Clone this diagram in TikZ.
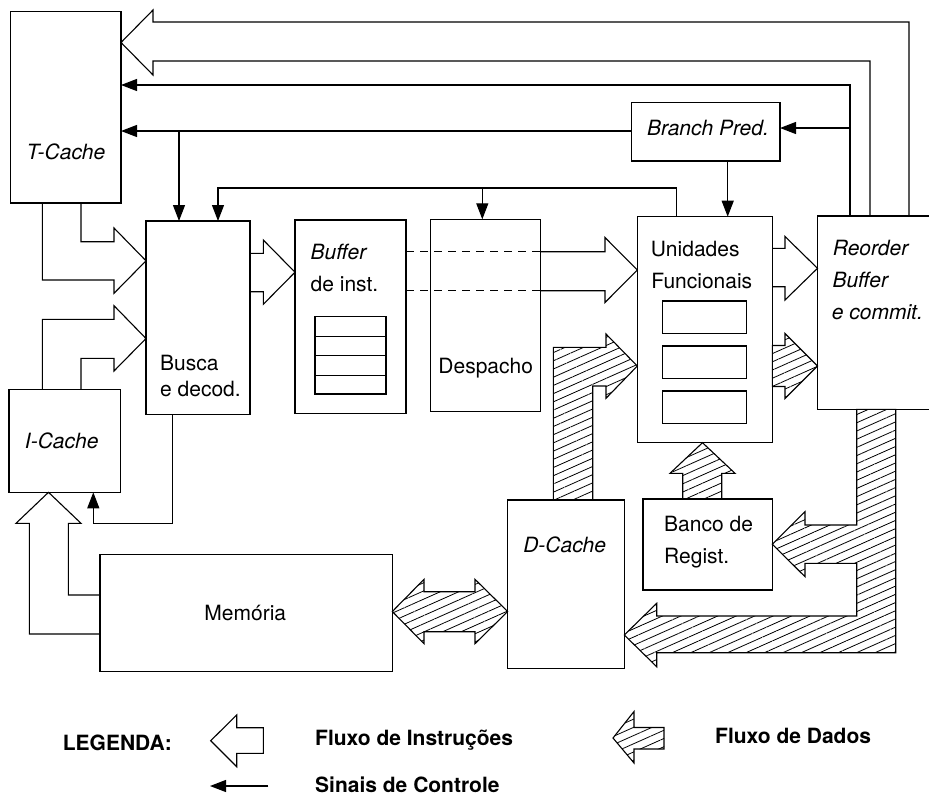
\documentclass[tikz,border=0pt]{standalone}
\usepackage{fontspec}
\setmainfont{TeX Gyre Heros}
\usetikzlibrary{arrows.meta,patterns.meta}

\begin{document}
\fontsize{21}{25}\selectfont
\begin{tikzpicture}[x=1pt,y=-1pt,
  box/.style={draw, line width=1.3pt, inner sep=0pt, outer sep=0pt, rectangle},
  cell/.style={draw, line width=1.1pt, inner sep=0pt, outer sep=0pt, rectangle},
  lbl/.style={inner sep=0pt, anchor=base west},
  ctr/.style={inner sep=0pt, anchor=base},
  wire/.style={line width=1.2pt},
  ctrl/.style={line width=1.2pt, -{Triangle[length=16pt,width=12pt]}},
  instr/.style={draw, line width=1.1pt, line join=miter},
  data/.style={draw, line width=1.1pt, line join=miter,
    pattern={Lines[angle=24,distance=7.5pt,line width=0.8pt]}},
  dashline/.style={line width=1.1pt, dash pattern=on 8pt off 6pt},
]
\clip (0,0) rectangle (929,796);

% ---------- blocks ----------
\node[box, minimum width=110.3pt, minimum height=191.3pt] (tc) at (65.85,107.35) {};
\node[box, minimum width=111.7pt, minimum height=103pt]   (ic) at (64.85,440.8) {};
\node[box, minimum width=104pt,   minimum height=193.3pt] (bd) at (198,317.65) {};
\node[box, minimum width=111pt,   minimum height=193.3pt] (bi) at (350.5,316.65) {};
\node[box, minimum width=110pt,   minimum height=192.4pt] (ds) at (485.7,315.5) {};
\node[box, minimum width=135pt,   minimum height=226pt]   (uf) at (704.8,329.7) {};
\node[box, minimum width=122.5pt, minimum height=193.3pt] (rb) at (878.75,312.65) {};
\node[box, minimum width=148.3pt, minimum height=58.3pt]  (bp) at (705.85,131.85) {};
\node[box, minimum width=116.6pt, minimum height=168.3pt] (dc) at (566,584.15) {};
\node[box, minimum width=129.3pt, minimum height=91pt]    (br) at (707.65,544.5) {};
\node[box, minimum width=292.3pt, minimum height=117.4pt] (mm) at (246.15,613) {};

% instruction buffer entries
\node[cell, minimum width=71pt, minimum height=77.3pt] (stk) at (350.5,355.35) {};
\foreach \yy in {336,355.7,375} \draw[line width=1pt] (stk.west |- 0,\yy) -- (stk.east |- 0,\yy);

% functional units
\node[cell, minimum width=84pt, minimum height=32.3pt] (fu1) at (704.7,317.15) {};
\node[cell, minimum width=84pt, minimum height=32.3pt] (fu2) at (704.7,362.15) {};
\node[cell, minimum width=84pt, minimum height=32.3pt] (fu3) at (704.7,407.15) {};

% ---------- labels ----------
\node[ctr, font=\itshape] (ttc) at (65.9,159.2) {T-Cache};
\node[ctr, font=\itshape] (tic) at (61.7,448.5) {I-Cache};
\node[lbl] (tbd1) at (160,370) {Busca};
\node[lbl] (tbd2) at (160,396) {e decod.};
\node[lbl, font=\itshape] (tbi1) at (310.5,259.3) {Buffer};
\node[lbl] (tbi2) at (310.5,291.7) {de inst.};
\node[ctr] (tds) at (485.7,373.3) {Despacho};
\node[lbl] (tuf1) at (650.7,256.7) {Unidades};
\node[lbl] (tuf2) at (651.2,288.3) {Funcionais};
\node[lbl, font=\itshape] (trb1) at (832.7,255) {Reorder};
\node[lbl, font=\itshape] (trb2) at (832.3,287.3) {Buffer};
\node[lbl, font=\itshape] (trb3) at (831.7,319.3) {e commit.};
\node[ctr, font=\itshape] (tbp) at (708,135) {Branch Pred.};
\node[ctr, font=\itshape] (tdc) at (564.7,552.7) {D-Cache};
\node[lbl] (tbr1) at (664,531.7) {Banco de};
\node[lbl] (tbr2) at (664,563.3) {Regist.};
\node[ctr] (tmm) at (245.3,620) {Memória};

% ---------- control signals ----------
\draw[ctrl] (rb.north -| 850,0) |- (tc.east |- 0,85);
\coordinate (jbp) at (850,128);
\draw[ctrl] (jbp) -- (bp.east |- jbp);
\draw[ctrl] (bp.west |- 0,131) -- (tc.east |- 0,131);
\coordinate (jbd) at (179,131);
\draw[ctrl] (jbd) -- (bd.north -| jbd);
\draw[ctrl] (bp.south -| 727.7,0) -- (uf.north -| 727.7,0);
\draw[ctrl] (uf.north -| 676.7,0) -- (676.7,188) -- (218,188) -- (bd.north -| 218,0);
\coordinate (jds) at (482.3,188);
\draw[ctrl] (jds) -- (ds.north -| jds);
\draw[ctrl] (bd.south -| 172.3,0) |- (93.3,523.3) -- (ic.south -| 93.3,0);

% ---------- instruction flow ----------
\draw[instr] (rb.north -| 909,0) -- (909,22) -- (153,22) -- (153,10) -- (tc.east |- 0,42.5)
  -- (153,75) -- (153,61) -- (870,61) -- (rb.north -| 870,0);
\draw[instr] (tc.south -| 81,0) |- (114,241.7) -- (114,228) -- (bd.west |- 0,260.8)
  -- (114,293.3) -- (114,280) -| (tc.south -| 42.3,0);
\draw[instr] (ic.north -| 42.3,0) |- (114,319.3) -- (114,305.7) -- (bd.west |- 0,338.5)
  -- (114,371) -- (114,358.3) -| (ic.north -| 81,0);
\draw[instr] (bd.east |- 0,253.3) -- (263.3,253.3) -- (263.3,240) -- (bi.west |- 0,272.2)
  -- (263.3,304.3) -- (263.3,291.7) -- (bd.east |- 0,291.7);
\draw[dashline] (bi.east |- 0,251.7) -- (ds.east |- 0,251.7);
\draw[dashline] (bi.east |- 0,290.7) -- (ds.east |- 0,290.7);
\draw[instr] (ds.east |- 0,251.7) -- (605,251.7) -- (605,237.5) -- (uf.west |- 0,270)
  -- (605,302.5) -- (605,290.7) -- (ds.east |- 0,290.7);
\draw[instr] (uf.east |- 0,248.3) -- (785,248.3) -- (785,236.5) -- (rb.west |- 0,268.3)
  -- (785,300) -- (785,286.7) -- (uf.east |- 0,286.7);
\draw[instr] (mm.west |- 0,634) -| (29.3,523.3) -- (16,523.3) -- (ic.south -| 48.5,0)
  -- (81,523.3) -- (68.3,523.3) |- (mm.west |- 0,595);

% ---------- data flow ----------
\draw[data] (dc.north -| 553.3,0) -- (553.3,347.3) -- (606,347.3) -- (606,334)
  -- (uf.west |- 0,366) -- (606,398.3) -- (606,386) -- (592.7,386) -- (dc.north -| 592.7,0) -- cycle;
\draw[data] (uf.east |- 0,345.5) -- (785,345.5) -- (785,333.5) -- (rb.west |- 0,366)
  -- (785,398.5) -- (785,386.5) -- (uf.east |- 0,386.5) -- cycle;
\draw[data] (br.north -| 682.7,0) -- (682.7,473.3) -- (670,473.3) -- (uf.south -| 702.5,0)
  -- (735,473.3) -- (721.7,473.3) -- (br.north -| 721.7,0) -- cycle;
\draw[data] (mm.east |- 0,611.5) -- (424,579.3) -- (424,591.7) -- (475,591.7) -- (475,579.3)
  -- (dc.west |- 0,611.5) -- (475,643.7) -- (475,631.7) -- (424,631.7) -- (424,643.7) -- cycle;
\draw[data] (rb.south -| 856.7,0) -- (856.7,525) -- (805,525) -- (805,511.7)
  -- (br.east |- 0,544.2) -- (805,576.7) -- (805,563.3) -- (856.7,563.3) -- (856.7,616)
  -- (656.7,616) -- (656.7,603.3) -- (dc.east |- 0,635) -- (656.7,666.7) -- (656.7,652.7)
  -- (895.7,652.7) -- (rb.south -| 895.7,0) -- cycle;

% ---------- legend ----------
\node[lbl, font=\bfseries] (leg) at (62.7,750) {LEGENDA:};
\draw[instr] (263.3,727.7) -- (236.7,727.7) -- (236.7,715) -- (210.7,740.7) -- (236.7,766.7)
  -- (236.7,753.3) -- (263.3,753.3) -- cycle;
\node[lbl, font=\bfseries] (lgi) at (315,745) {Fluxo de Instruções};
\draw[data] (664,727.5) -- (634,727.5) -- (634,711.5) -- (613,738) -- (634,763) -- (634,749)
  -- (664,749) -- cycle;
\node[lbl, font=\bfseries] (lgd) at (715,743) {Fluxo de Dados};
\coordinate (lgc) at (268.3,786);
\draw[ctrl] (lgc) -- (210,786);
\node[lbl, font=\bfseries] (lgs) at (315,792.3) {Sinais de Controle};
\end{tikzpicture}
\end{document}
